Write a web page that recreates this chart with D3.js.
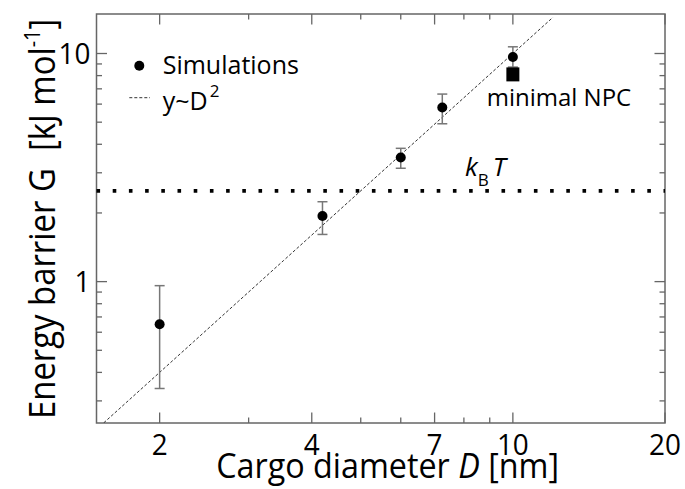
<!DOCTYPE html>
<html>
<head>
<meta charset="utf-8">
<script src="https://cdn.jsdelivr.net/npm/d3@7"></script>
<style>
  body { margin: 0; background: #fff; }
  text { font-family: "Open Sans", sans-serif; fill: #000; }
</style>
</head>
<body>
<svg id="chart"></svg>
<script>
// Data
const diameters = [2, 4.2, 6, 7.25, 10];
const barrier = [0.65, 1.94, 3.5, 5.8, 9.66];
const errLow = [0.34, 1.61, 3.14, 4.92, 8.72];
const errHigh = [0.96, 2.24, 3.84, 6.64, 10.7];
const npcD = [10];
const npcG = [8.1];
const kT = 2.5; // kB T in kJ/mol
const fitRange = [1.55, 12]; // y ~ D^2 line, y = 0.1 D^2
const xMajor = [2, 4, 7, 10, 20];
const xMinor = [3, 5, 6, 8, 9];
const yMajor = [1, 10];
const yMinor = [0.3, 0.4, 0.5, 0.6, 0.7, 0.8, 0.9, 2, 3, 4, 5, 6, 7, 8, 9];

const W = 685, H = 489;
const margin = { top: 14, right: 20, bottom: 66, left: 96.5 };
const width = W - margin.left - margin.right;
const height = H - margin.top - margin.bottom;

const svg = d3.select("#chart").attr("width", W).attr("height", H);
const g = svg.append("g").attr("transform", `translate(${margin.left},${margin.top})`);

const x = d3.scaleLog().domain([1.5, 20]).range([0, width]);
const y = d3.scaleLog().domain([0.24, 14.9]).range([height, 0]);

const grey = "#666";

// clip for the fit line
svg.append("defs").append("clipPath").attr("id", "clip")
  .append("rect").attr("width", width).attr("height", height);

// ticks (inside, on all four sides)
function ticks(vals, len, axis) {
  vals.forEach((v) => {
    if (axis === "x") {
      const px = x(v);
      g.append("line").attr("x1", px).attr("x2", px).attr("y1", height).attr("y2", height - len)
        .attr("stroke", grey).attr("stroke-width", 1.3);
      g.append("line").attr("x1", px).attr("x2", px).attr("y1", 0).attr("y2", len)
        .attr("stroke", grey).attr("stroke-width", 1.3);
    } else {
      const py = y(v);
      g.append("line").attr("x1", 0).attr("x2", len).attr("y1", py).attr("y2", py)
        .attr("stroke", grey).attr("stroke-width", 1.3);
      g.append("line").attr("x1", width).attr("x2", width - len).attr("y1", py).attr("y2", py)
        .attr("stroke", grey).attr("stroke-width", 1.3);
    }
  });
}
ticks(xMajor, 10.5, "x");
ticks(xMinor, 5.5, "x");
ticks(yMajor, 10.5, "y");
ticks(yMinor, 5.5, "y");

// tick labels
g.selectAll(".xlab").data(xMajor).enter().append("text")
  .attr("transform", (d) => `translate(${x(d)},${height + 32}) scale(0.93,1)`)
  .attr("text-anchor", "middle").style("font-size", "30px")
  .text((d) => d);
g.selectAll(".ylab").data(yMajor).enter().append("text")
  .attr("transform", (d) => `translate(-6,${y(d)}) scale(0.93,1)`)
  .attr("dy", "0.36em")
  .attr("text-anchor", "end").style("font-size", "30px")
  .text((d) => d);

// frame
g.append("rect").attr("width", width).attr("height", height)
  .attr("fill", "none").attr("stroke", grey).attr("stroke-width", 1.5);

// kB T dotted line
g.append("line")
  .attr("x1", 0).attr("x2", width).attr("y1", y(kT)).attr("y2", y(kT))
  .attr("stroke", "#000").attr("stroke-width", 3.6)
  .attr("stroke-dasharray", "3.6,12.6");

// y ~ D^2 fit
const fitPts = d3.range(0, 21).map((i) => {
  const d = fitRange[0] * Math.pow(fitRange[1] / fitRange[0], i / 20);
  return [d, 0.1 * d * d];
});
g.append("path")
  .attr("clip-path", "url(#clip)")
  .attr("d", d3.line().x((d) => x(d[0])).y((d) => y(d[1]))(fitPts))
  .attr("fill", "none").attr("stroke", "#333").attr("stroke-width", 1)
  .attr("stroke-dasharray", "3,2");

// error bars
const pts = diameters.map((d, i) => ({ d, v: barrier[i], lo: errLow[i], hi: errHigh[i] }));
const eb = g.selectAll(".eb").data(pts).enter().append("g").attr("stroke", "#777").attr("stroke-width", 1.5);
eb.append("line").attr("x1", (d) => x(d.d)).attr("x2", (d) => x(d.d))
  .attr("y1", (d) => y(d.lo)).attr("y2", (d) => y(d.hi));
eb.append("line").attr("x1", (d) => x(d.d) - 5).attr("x2", (d) => x(d.d) + 5)
  .attr("y1", (d) => y(d.lo)).attr("y2", (d) => y(d.lo));
eb.append("line").attr("x1", (d) => x(d.d) - 5).attr("x2", (d) => x(d.d) + 5)
  .attr("y1", (d) => y(d.hi)).attr("y2", (d) => y(d.hi));

// simulation points
g.selectAll(".pt").data(pts).enter().append("circle")
  .attr("cx", (d) => x(d.d)).attr("cy", (d) => y(d.v)).attr("r", 5).attr("fill", "#000");

// minimal NPC square
g.selectAll(".sq").data(npcD).enter().append("rect")
  .attr("x", (d) => x(d) - 6.5).attr("y", (d, i) => y(npcG[i]) - 7)
  .attr("width", 13).attr("height", 14).attr("fill", "#000");

// annotations
g.append("text").attr("x", 486.7 - margin.left).attr("y", 106 - margin.top)
  .style("font-size", "24px").text("minimal NPC");

const kt = g.append("text").attr("x", 465 - margin.left).attr("y", 175.5 - margin.top)
  .style("font-size", "26px").style("font-style", "italic");
kt.append("tspan").text("k");
kt.append("tspan").attr("dy", 10).style("font-size", "17px").style("font-style", "normal").text("B");
kt.append("tspan").attr("dy", -10).attr("dx", 4).text("T");

// legend
g.append("circle").attr("cx", 139.3 - margin.left).attr("cy", 65.7 - margin.top).attr("r", 5).attr("fill", "#000");
g.append("text").attr("x", 162.7 - margin.left).attr("y", 74 - margin.top)
  .style("font-size", "25px").text("Simulations");
g.append("line").attr("x1", 129.3 - margin.left).attr("x2", 150 - margin.left)
  .attr("y1", 97.7 - margin.top).attr("y2", 97.7 - margin.top)
  .attr("stroke", "#333").attr("stroke-width", 1).attr("stroke-dasharray", "3,2");
const lg = g.append("text").attr("x", 162.7 - margin.left).attr("y", 110 - margin.top)
  .style("font-size", "25px");
lg.append("tspan").text("y~D");
lg.append("tspan").attr("dy", -13).attr("dx", 2).style("font-size", "17px").text("2");

// axis titles
const xt = svg.append("text").attr("transform", "translate(387.6,478) scale(0.91,1)")
  .attr("text-anchor", "middle").style("font-size", "35.5px");
xt.append("tspan").text("Cargo diameter ");
xt.append("tspan").style("font-style", "italic").text("D");
xt.append("tspan").text(" [nm]");

const yt = svg.append("text").attr("transform", "translate(55,419) rotate(-90) scale(0.9,1)")
  .style("font-size", "36.5px");
yt.append("tspan").text("Energy barrier G\u00a0 [kJ mol");
yt.append("tspan").attr("dy", -15).style("font-size", "22px").text("-1");
yt.append("tspan").attr("dy", 15).text("]");
</script>
</body>
</html>
